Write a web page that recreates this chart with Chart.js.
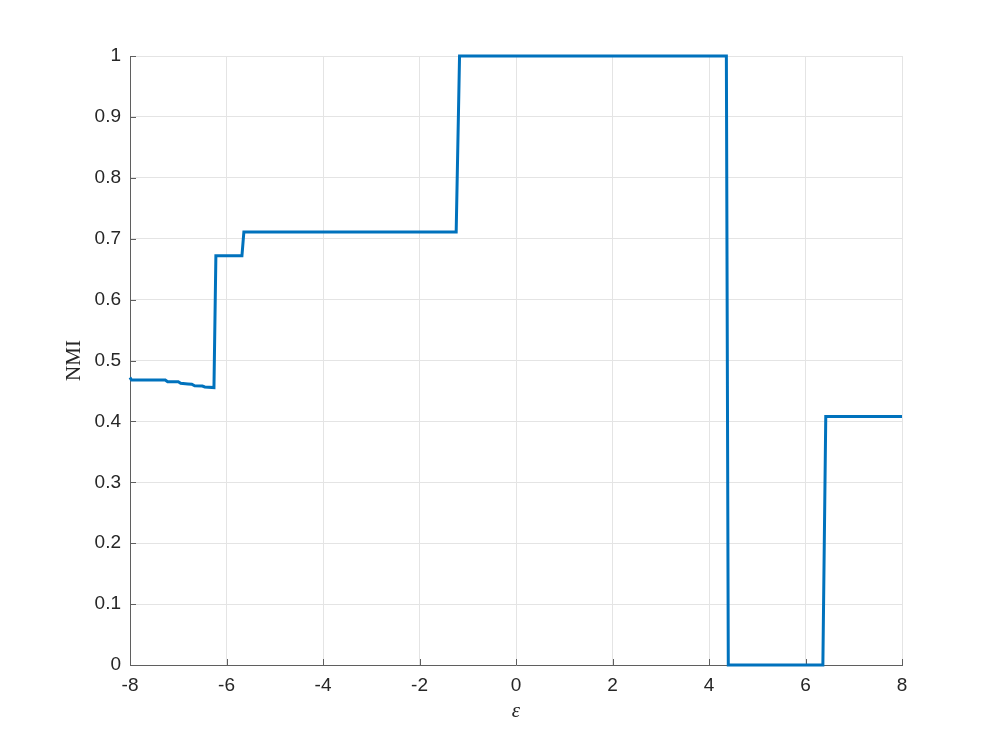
<!DOCTYPE html>
<html>
<head>
<meta charset="utf-8">
<script src="https://cdn.jsdelivr.net/npm/chart.js@4.4.1/dist/chart.umd.min.js"></script>
<style>
html,body{margin:0;padding:0;background:#fff;}
canvas{display:block;}
</style>
</head>
<body>
<canvas id="c" width="997" height="747"></canvas>
<script>
const epsValues = [-8, -7.97, -7.27, -7.22, -7.0, -6.95, -6.8, -6.72, -6.66, -6.5, -6.45, -6.26, -6.22, -5.68, -5.64, -1.24, -1.17, 4.36, 4.40, 6.36, 6.42, 8];
const nmiValues = [0.472, 0.468, 0.468, 0.465, 0.465, 0.4625, 0.4615, 0.461, 0.4585, 0.458, 0.4565, 0.4555, 0.672, 0.672, 0.711, 0.711, 1, 1, 0, 0, 0.408, 0.408];
const xTicks = [-8, -6, -4, -2, 0, 2, 4, 6, 8];
const yTicks = [0, 0.1, 0.2, 0.3, 0.4, 0.5, 0.6, 0.7, 0.8, 0.9, 1];
const yTickLabels = ['0', '0.1', '0.2', '0.3', '0.4', '0.5', '0.6', '0.7', '0.8', '0.9', '1'];

const points = epsValues.map((x, i) => ({x: x, y: nmiValues[i]}));

const axisColor = '#5f5f5f';
const gridColor = '#e4e4e4';
const textColor = '#262626';

const inwardTicks = {
  id: 'inwardTicks',
  beforeDatasetsDraw(chart) {
    const ctx = chart.ctx;
    const xs = chart.scales.x, ys = chart.scales.y;
    const a = chart.chartArea;
    const len = 6;
    ctx.save();
    ctx.strokeStyle = axisColor;
    ctx.lineWidth = 1;
    ctx.beginPath();
    xTicks.forEach(v => {
      const px = Math.round(xs.getPixelForValue(v)) + 0.5;
      ctx.moveTo(px, a.bottom);
      ctx.lineTo(px, a.bottom - len);
    });
    yTicks.forEach(v => {
      const py = Math.round(ys.getPixelForValue(v)) + 0.5;
      ctx.moveTo(a.left, py);
      ctx.lineTo(a.left + len, py);
    });
    ctx.stroke();
    ctx.restore();
  }
};

new Chart(document.getElementById('c'), {
  type: 'line',
  data: {
    datasets: [{
      data: points,
      borderColor: '#0072BD',
      borderWidth: 3,
      pointRadius: 0,
      fill: false,
      tension: 0,
      clip: 6
    }]
  },
  options: {
    responsive: false,
    animation: false,
    devicePixelRatio: 1,
    layout: {padding: {top: 56, right: 95, left: 0, bottom: 0}},
    plugins: {legend: {display: false}, tooltip: {enabled: false}},
    scales: {
      x: {
        type: 'linear',
        min: -8, max: 8,
        afterBuildTicks: s => { s.ticks = xTicks.map(v => ({value: v})); },
        afterFit: s => { s.height = 82; },
        grid: {color: gridColor, drawTicks: false, lineWidth: 1},
        border: {color: axisColor, width: 1},
        ticks: {
          color: textColor,
          font: {family: '"Liberation Sans", Arial, sans-serif', size: 19},
          padding: 9,
          maxRotation: 0,
          callback: v => String(v)
        },
        title: {
          display: true,
          text: 'ε',
          color: textColor,
          font: {family: '"Liberation Serif", "DejaVu Serif", serif', size: 21, style: 'italic'},
          padding: {top: 0, bottom: 23}
        }
      },
      y: {
        type: 'linear',
        min: 0, max: 1,
        afterBuildTicks: s => { s.ticks = yTicks.map(v => ({value: v})); },
        afterFit: s => { s.width = 130; },
        grid: {color: gridColor, drawTicks: false, lineWidth: 1},
        border: {color: axisColor, width: 1},
        ticks: {
          color: textColor,
          font: {family: '"Liberation Sans", Arial, sans-serif', size: 19},
          padding: 9,
          callback: (v) => {
            const i = yTicks.findIndex(t => Math.abs(t - v) < 1e-9);
            return i >= 0 ? yTickLabels[i] : '';
          }
        },
        title: {
          display: true,
          text: 'NMI',
          color: textColor,
          font: {family: '"Liberation Serif", "DejaVu Serif", serif', size: 21},
          padding: {top: 62, bottom: 0}
        }
      }
    }
  },
  plugins: [inwardTicks]
});
</script>
</body>
</html>
